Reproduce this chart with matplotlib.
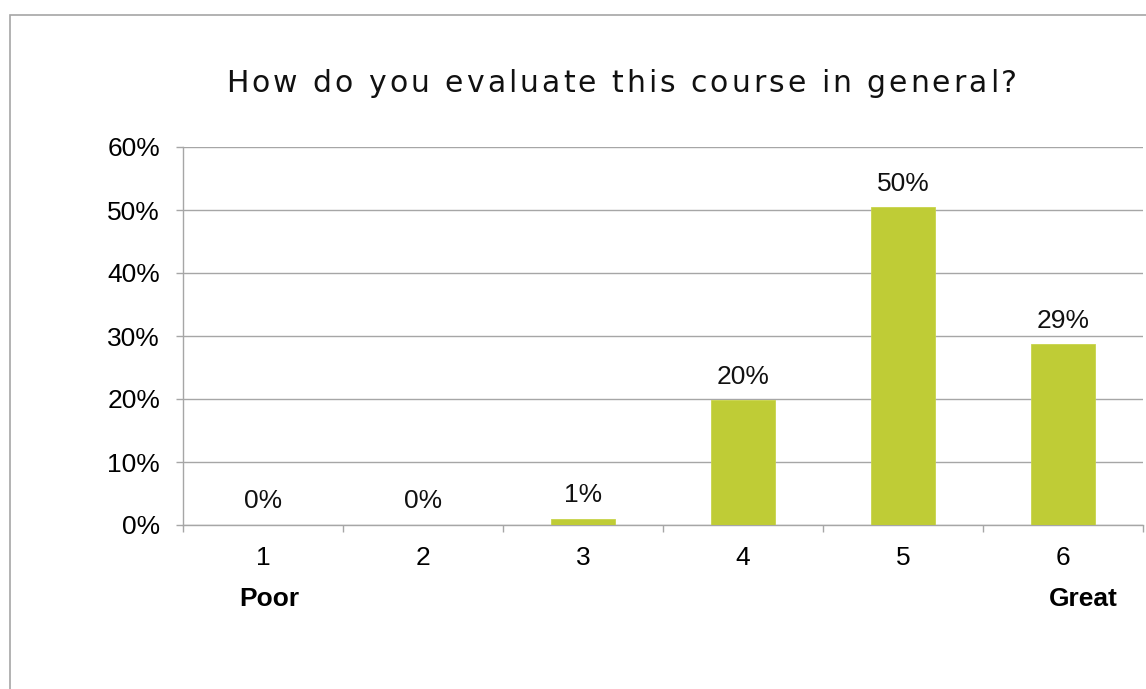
import matplotlib.pyplot as plt
from matplotlib.patches import Rectangle
from matplotlib.font_manager import findfont, FontProperties, get_font

plt.rcParams['font.family'] = ['Liberation Sans', 'DejaVu Sans']

# 数据
categories = ['1', '2', '3', '4', '5', '6']
shares = [0.0, 0.0, 0.0095, 0.198, 0.504, 0.287]
value_labels = ['0%', '0%', '1%', '20%', '50%', '29%']
y_ticks = [0, 0.1, 0.2, 0.3, 0.4, 0.5, 0.6]
title = 'How do you evaluate this course in general?'

W, H = 1146, 689
fig = plt.figure(figsize=(W / 100, H / 100), dpi=100)


def spaced_title(text, x_left, x_right, y_base, size, family):
    """标题字距加宽：逐字放置"""
    font = get_font(findfont(FontProperties(family=family)))
    font.set_size(size, 100)
    adv = [font.load_char(ord(c)).linearHoriAdvance / 65536 for c in text]
    track = (x_right - x_left - sum(adv)) / (len(text) - 1)
    pos = x_left
    for c, a in zip(text, adv):
        if c != ' ':
            fig.text(pos / W, 1 - y_base / H, c, ha='left', va='baseline',
                     fontsize=size, family=family, color='#111111')
        pos += a + track


# 外框
fig.patches.append(Rectangle((9.5 / W, -0.05), 1.2, 1 - 14.5 / H + 0.05,
                             transform=fig.transFigure, fill=False,
                             edgecolor='#A6A6A6', linewidth=1.2))

ax = fig.add_axes([183 / W, 1 - 525 / H, 960 / W, 378 / H])
x = list(range(len(categories)))
ax.bar(x, shares, width=0.4, color='#BFCC36', edgecolor='#C8D44A', linewidth=0.6, zorder=3)

for xi, v, lab in zip(x, shares, value_labels):
    ax.annotate(lab, (xi, v), xytext=(0, 17), textcoords='offset points',
                ha='center', va='center', fontsize=19, color='#111111')

ax.set_xlim(-0.5, 5.5)
ax.set_ylim(0, 0.6)
ax.set_yticks(y_ticks)
ax.set_yticklabels([f'{int(round(t * 100))}%' for t in y_ticks], fontsize=19)
ax.grid(axis='y', color='#A6A6A6', linewidth=1, zorder=0)

ax.set_xticks(x)
ax.set_xticklabels(categories, fontsize=19)
ax.set_xticks([i - 0.5 for i in range(len(categories) + 1)], minor=True)
ax.tick_params(axis='x', which='major', length=0, pad=15)
ax.tick_params(axis='x', which='minor', length=5, color='#A6A6A6', width=1)
ax.tick_params(axis='y', length=5, color='#A6A6A6', width=1, pad=11.5)

for s in ['top', 'right']:
    ax.spines[s].set_visible(False)
for s in ['left', 'bottom']:
    ax.spines[s].set_color('#A6A6A6')
    ax.spines[s].set_linewidth(1)

ax.text(0.04, -0.196, 'Poor', transform=ax.get_xaxis_transform(),
        ha='center', va='center', fontsize=19, fontweight='bold')
ax.text(5.13, -0.196, 'Great', transform=ax.get_xaxis_transform(),
        ha='center', va='center', fontsize=19, fontweight='bold')

spaced_title(title, 226, 1017, 92.5, 21.5, 'DejaVu Sans')

fig.savefig('out.png', dpi=100)
